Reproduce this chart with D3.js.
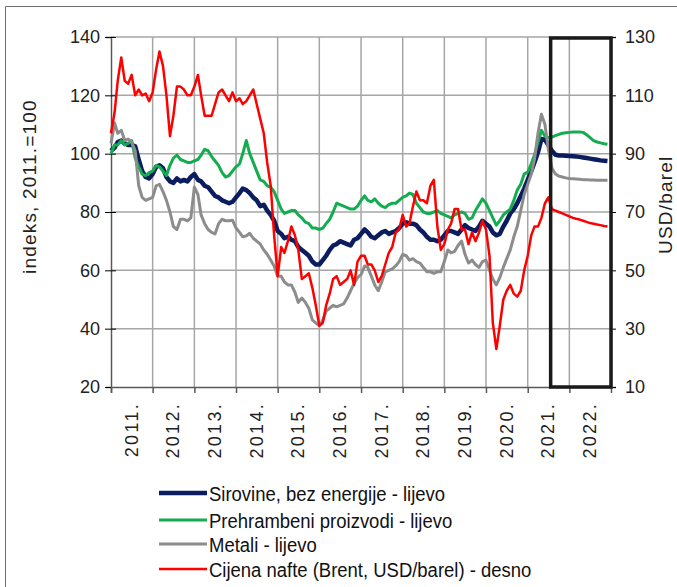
<!DOCTYPE html>
<html>
<head>
<meta charset="utf-8">
<script src="https://cdn.jsdelivr.net/npm/d3@7"></script>
<style>
  body { margin: 0; background: #fff; }
  svg { font-family: "Liberation Sans", Arial, sans-serif; }
</style>
</head>
<body>
<svg id="chart" width="677" height="587"></svg>
<script>
// monthly values, Jan 2011 - Dec 2022
var sirovine = [
  101, 102, 104, 104.5, 103.5, 103, 103, 102.5, 98, 94, 92, 91.5,
  93, 95.5, 96, 95, 92, 90.5, 90, 91.5, 90.5, 91, 90.5, 92,
  93, 91, 90.5, 89, 88.5, 87, 85.5, 85, 84, 83.5, 83, 83.5,
  85, 86.5, 88, 87.5, 86.5, 85, 84, 82, 82.5, 80.5, 79, 77,
  73.5, 72.5, 71, 71.5, 70.5, 70, 68, 67, 66, 65, 63, 62,
  62, 63.5, 65, 67, 68.5, 69, 70, 69.5, 69, 68.5, 70.5, 71,
  72.5, 74, 73, 71.5, 71, 72, 73, 73.5, 72.5, 73, 73.5, 74.5,
  76, 76.5, 76, 76, 75.5, 74, 73, 71.5, 70.5, 70.5, 70, 70.5,
  72, 73.5, 73.5, 73, 72.5, 74, 75.5, 74.5, 74, 73.5, 75, 77,
  76, 75, 73, 72, 72.5, 75, 77, 79.5, 81, 83, 85.5, 88,
  91, 94, 97, 100.5, 105, 104.8, 103, 101, 99.6, 99.4, 99.4, 99.3,
  99.2, 99.1, 99, 98.9, 98.7, 98.5, 98.3, 98.1, 97.9, 97.7, 97.6, 97.5
];
var hrana = [
  100, 103, 103, 104.5, 103, 103.5, 104.5, 98.5, 95.5, 93, 92.5, 93.5,
  94, 96, 95.5, 94, 92.5, 96, 98.5, 99.5, 98, 97.5, 97, 97,
  97.5, 98, 99.5, 101.5, 101, 99, 97.5, 96, 93.5, 92, 92.5, 94,
  95.5, 96.5, 100, 104.5, 100, 97, 94, 91, 90.5, 89, 88.5, 87,
  84, 81, 79.5, 80, 80.5, 80.5, 79, 78, 76.5, 76, 74.5, 74.5,
  74, 74.5, 76, 77.5, 80, 83, 82.5, 82, 81.5, 81, 81, 82,
  84, 85.5, 84, 83.5, 84.5, 83, 82, 81.5, 82.5, 83, 83, 84,
  85, 85.5, 86.5, 86, 83, 81.5, 80, 79.5, 79.5, 80, 80.5, 79.5,
  79, 78.5, 78, 79, 79.5, 80, 79.5, 77.5, 78, 80.5, 82.5, 84.5,
  83, 80.5, 78, 75.5, 77, 79, 80, 81, 84, 87.5, 89.5, 93,
  93.7, 96.5, 99.5, 104, 108, 106, 105.5, 105.7, 106.2, 106.6, 107, 107.2,
  107.3, 107.4, 107.4, 107.4, 107.3, 106.5, 105.5, 104.5, 104, 103.7, 103.4, 103.2
];
var metali = [
  103.5, 110.5, 107, 108, 104.5, 105, 104, 101, 89, 85, 84, 84.5,
  85, 89, 89.5, 87, 84, 80, 75, 74, 77.5, 77.5, 77, 78,
  88.5, 86, 79, 76, 74, 73, 72.5, 76, 77.5, 77, 77, 77.2,
  74.5, 73, 71.5, 71.8, 72.7, 71, 70, 69, 67, 65.5, 63.5, 61.5,
  58, 58, 56, 55, 55, 52.5, 49, 50.5, 49, 47, 43, 42,
  41, 43, 46, 47, 48, 47.5, 48, 48.5, 50.5, 53, 55.5, 57.5,
  58.5, 61.5, 61, 58, 55, 53, 56, 59.5, 60, 60.5, 61.5, 63,
  65.5, 65, 63.5, 64, 63, 62.5, 61, 59.5, 59.5, 59, 59.5, 59.5,
  63, 67, 66, 66.5, 68.5, 70, 65.5, 62.5, 63.5, 62, 61, 63,
  63.5, 60, 57, 55, 57.5, 61, 64, 67, 71.5, 75, 80.5, 86,
  89.5, 93, 98, 107, 113.5, 110, 101.5, 95, 93, 92.3, 92, 91.7,
  91.5, 91.4, 91.3, 91.2, 91.1, 91.1, 91, 91, 90.9, 90.9, 90.9, 90.9
];
// Brent, USD/barel (right axis)
var nafta = [
  97, 104, 115, 123, 115, 114, 117, 110, 112, 110, 110.6, 108,
  111, 119, 125, 120, 110, 96, 103, 113, 113, 112, 110, 110,
  113, 117, 110, 103, 103, 103, 107, 111, 112, 110, 108, 111,
  108, 109, 107, 108, 110, 112, 107, 102, 97, 87, 79, 62,
  48, 58, 56, 60, 65, 62, 57, 47, 48, 49, 44, 38,
  31, 32, 38, 42, 47, 48, 45, 46, 47, 50, 45, 53,
  55, 55, 52, 52, 50, 46, 48, 52, 56, 58, 63, 64,
  69, 65, 66, 72, 77, 74, 74, 73, 79, 81, 65, 57,
  59, 64, 66, 71, 71, 64, 64, 59, 63, 60, 63, 67,
  64, 55, 32, 23, 31, 40, 43, 45, 42, 41, 43, 50,
  55, 62, 65, 65, 68, 73, 75, 71, 70.5, 70, 69.5, 69,
  68.5, 68, 67.7, 67.4, 67, 66.6, 66.2, 66, 65.7, 65.5, 65.2, 65
];

var years = ["2011.", "2012.", "2013.", "2014.", "2015.", "2016.", "2017.", "2018.", "2019.", "2020.", "2021.", "2022."];
var leftTicks = [20, 40, 60, 80, 100, 120, 140];
var rightTicks = [10, 30, 50, 70, 90, 110, 130];
var projectionStart = new Date(2021, 6, 21);

var series = [
  {name: "Sirovine, bez energije - lijevo", values: sirovine, axis: "left", color: "#0b1d5e", width: 4.5},
  {name: "Prehrambeni proizvodi - lijevo", values: hrana, axis: "left", color: "#13ad50", width: 3},
  {name: "Metali - lijevo", values: metali, axis: "left", color: "#8c8c8c", width: 3},
  {name: "Cijena nafte (Brent, USD/barel) - desno", values: nafta, axis: "right", color: "#ff0000", width: 2.5}
];

var months = d3.timeMonths(new Date(2011, 0, 1), new Date(2023, 0, 1));

var margin = {top: 37, right: 66, bottom: 200, left: 111};
var width = 677, height = 587;
var w = width - margin.left - margin.right;
var h = height - margin.top - margin.bottom;

var svg = d3.select("#chart");

// outer frame of the picture
svg.append("path")
    .attr("d", "M5.5," + height + "V6.5H" + width)
    .attr("fill", "none")
    .attr("stroke", "#6e6e6e")
    .attr("stroke-width", 1);

var chart = svg.append("g")
    .attr("transform", "translate(" + margin.left + "," + margin.top + ")");

var x = d3.scaleTime()
    .domain([new Date(2011, 0, 1), new Date(2023, 0, 1)])
    .range([0, w]);
var yL = d3.scaleLinear().domain([20, 140]).range([h, 0]);
var yR = d3.scaleLinear().domain([10, 130]).range([h, 0]);

var yearStarts = years.map(function(d, i) { return new Date(2011 + i, 0, 1); });

// horizontal grid
chart.selectAll(".hgrid").data(leftTicks.slice(1))
  .enter().append("line")
    .attr("x1", 0).attr("x2", w)
    .attr("y1", function(d) { return yL(d); })
    .attr("y2", function(d) { return yL(d); })
    .attr("stroke", "#a6a6a6").attr("stroke-width", 1.5);

// vertical grid
chart.selectAll(".vgrid").data(yearStarts.slice(1))
  .enter().append("line")
    .attr("x1", function(d) { return x(d); })
    .attr("x2", function(d) { return x(d); })
    .attr("y1", 0).attr("y2", h)
    .attr("stroke", "#a6a6a6").attr("stroke-width", 1.5);

// left axis
var leftAxis = chart.append("g")
    .call(d3.axisLeft(yL).tickValues(leftTicks).tickSize(5).tickPadding(6));
leftAxis.selectAll(".tick line").attr("x2", -6).attr("x1", 5);
leftAxis.select(".domain").attr("stroke", "#595959").attr("stroke-width", 1.5);
leftAxis.selectAll("text").style("font-size", "18px").attr("fill", "#222");

// right axis
var rightAxis = chart.append("g")
    .attr("transform", "translate(" + w + ",0)")
    .call(d3.axisRight(yR).tickValues(rightTicks).tickSize(5).tickPadding(9));
rightAxis.select(".domain").attr("stroke", "#595959").attr("stroke-width", 1.5);
rightAxis.selectAll("text").style("font-size", "18px").attr("fill", "#222");

// bottom axis
var bottomAxis = chart.append("g")
    .attr("transform", "translate(0," + h + ")")
    .call(d3.axisBottom(x).tickValues(yearStarts).tickSize(6).tickFormat(""));
bottomAxis.select(".domain").attr("stroke", "#595959").attr("stroke-width", 1.5);
bottomAxis.selectAll(".tick line").attr("stroke", "#595959").attr("stroke-width", 1.5);

chart.selectAll(".ylabel").data(years)
  .enter().append("text")
    .attr("transform", function(d, i) {
      var mid = x(new Date(2011 + i, 6, 1));
      return "translate(" + (mid + 6) + "," + (h + 15) + ") rotate(-90)";
    })
    .attr("text-anchor", "end")
    .style("font-size", "18px")
    .style("letter-spacing", "2.3px")
    .attr("fill", "#222")
    .text(function(d) { return d; });

// axis titles
svg.append("text")
    .attr("transform", "translate(36," + (margin.top + h / 2 + 62) + ") rotate(-90)")
    .style("font-size", "19px")
    .style("letter-spacing", "1.2px")
    .attr("fill", "#222")
    .text("indeks, 2011.=100");

svg.append("text")
    .attr("transform", "translate(672," + (margin.top + h / 2 + 42) + ") rotate(-90)")
    .style("font-size", "19px")
    .style("letter-spacing", "1.2px")
    .attr("fill", "#222")
    .text("USD/barel");

// lines
series.forEach(function(s) {
  var yScale = s.axis === "left" ? yL : yR;
  var line = d3.line()
      .x(function(d, i) { return x(months[i]); })
      .y(function(d) { return yScale(d); });
  chart.append("path")
      .datum(s.values)
      .attr("fill", "none")
      .attr("stroke", s.color)
      .attr("stroke-width", s.width)
      .attr("stroke-linejoin", "round")
      .attr("d", line);
});

// projection box
chart.append("rect")
    .attr("x", x(projectionStart))
    .attr("y", 1)
    .attr("width", w - x(projectionStart))
    .attr("height", h - 1)
    .attr("fill", "none")
    .attr("stroke", "#1a1a1a")
    .attr("stroke-width", 3.5);

// legend
var legend = svg.append("g").attr("transform", "translate(159,493)");
var rows = legend.selectAll("g").data(series)
  .enter().append("g")
    .attr("transform", function(d, i) { return "translate(0," + [0, 27, 51, 76][i] + ")"; });
rows.append("line")
    .attr("x1", 0).attr("x2", 48)
    .attr("stroke", function(d) { return d.color; })
    .attr("stroke-width", function(d) { return d.width; });
rows.append("text")
    .attr("transform", "translate(50,0) scale(0.88,1)")
    .attr("dy", "0.36em")
    .style("font-size", "21px")
    .attr("fill", "#111")
    .text(function(d) { return d.name; });
</script>
</body>
</html>
